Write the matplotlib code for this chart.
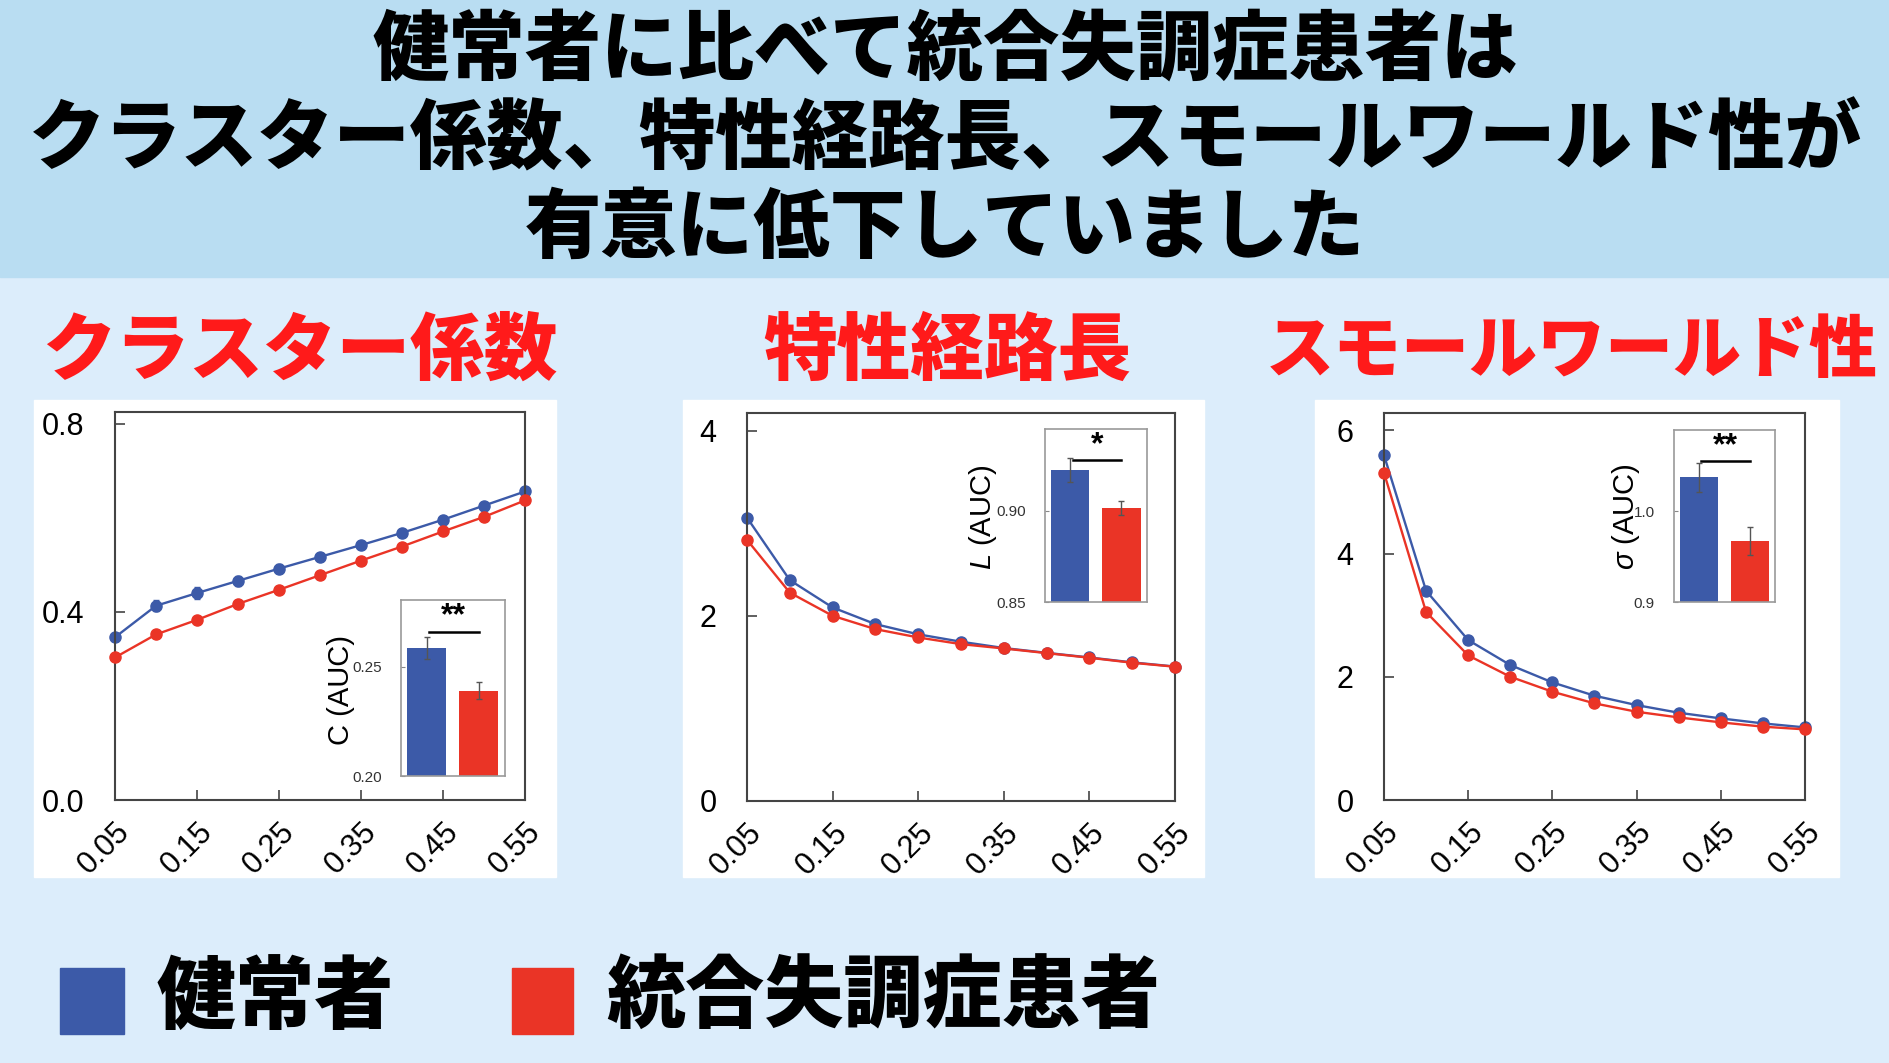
import numpy as np
import matplotlib.pyplot as plt
from matplotlib.patches import Rectangle

plt.rcParams['font.family'] = ['Noto Sans CJK JP', 'DejaVu Sans']
plt.rcParams['mathtext.fontset'] = 'custom'
plt.rcParams['mathtext.it'] = 'Liberation Sans:italic'
plt.rcParams['mathtext.rm'] = 'Liberation Sans'

# data
density = [0.05, 0.10, 0.15, 0.20, 0.25, 0.30, 0.35, 0.40, 0.45, 0.50, 0.55]
xtick_vals = [0.05, 0.15, 0.25, 0.35, 0.45, 0.55]
xtick_labels = ["0.05", "0.15", "0.25", "0.35", "0.45", "0.55"]

C_hc = [0.346, 0.413, 0.440, 0.466, 0.492, 0.517, 0.542, 0.568, 0.596, 0.626, 0.656]
C_hc_err = [0.008, 0.012, 0.012, 0.011, 0.010, 0.009, 0.008, 0.007, 0.007, 0.006, 0.006]
C_sz = [0.303, 0.352, 0.383, 0.417, 0.447, 0.478, 0.509, 0.539, 0.571, 0.602, 0.637]

L_hc = [3.06, 2.385, 2.09, 1.91, 1.80, 1.72, 1.652, 1.600, 1.550, 1.497, 1.452]
L_sz = [2.82, 2.25, 2.00, 1.856, 1.766, 1.694, 1.647, 1.597, 1.547, 1.493, 1.45]

S_hc = [5.595, 3.395, 2.595, 2.19, 1.908, 1.692, 1.54, 1.416, 1.324, 1.243, 1.178]
S_sz = [5.31, 3.05, 2.346, 2.00, 1.757, 1.568, 1.432, 1.34, 1.26, 1.19, 1.146]

C_auc = [0.2585, 0.239]
C_auc_err = [0.005, 0.004]
L_auc = [0.9225, 0.9015]
L_auc_err = [0.0064, 0.004]
S_auc = [1.038, 0.967]
S_auc_err = [0.016, 0.0155]

title_lines = ["健常者に比べて統合失調症患者は",
               "クラスター係数、特性経路長、スモールワールド性が",
               "有意に低下していました"]
panel_titles = ["クラスター係数", "特性経路長", "スモールワールド性"]
group_names = ["健常者", "統合失調症患者"]

BLUE = "#3c5aa8"
RED = "#ea3426"
W, H = 1890, 1063

fig = plt.figure(figsize=(18.9, 10.63), dpi=100, facecolor="#dcedfb")


def box(x0, y0, x1, y1):
    # pixel box (top-left origin) -> figure fraction rect
    return [x0 / W, 1 - y1 / H, (x1 - x0) / W, (y1 - y0) / H]


# banner
fig.patches.append(Rectangle((0, 1 - 277 / H), 1, 277 / H, transform=fig.transFigure,
                             color="#b9ddf2", zorder=-2))
for line, yc in zip(title_lines, [51, 140, 229]):
    fig.text(0.5, 1 - yc / H, line, ha="center", va="center", fontsize=55,
             fontweight="black", color="black")

# panel backgrounds
for x0, x1 in [(34, 556), (683, 1204), (1315, 1839)]:
    fig.patches.append(Rectangle((x0 / W, 1 - 877 / H), (x1 - x0) / W, 477 / H,
                                 transform=fig.transFigure, color="white", zorder=-1))

# panel titles
for t, xc, fs in zip(panel_titles, [300, 947, 1572], [53, 53, 49]):
    fig.text(xc / W, 1 - 352 / H, t, ha="center", va="center", fontsize=fs,
             fontweight="black", color="#ff1a1a")

main_boxes = [(115, 412, 525, 800), (747, 413, 1175, 801), (1384, 413, 1805, 800)]
ylims = [(0, 0.825), (0, 4.19), (0, 6.28)]
yticks = [[0.0, 0.4, 0.8], [0, 2, 4], [0, 2, 4, 6]]
yticklabels = [["0.0", "0.4", "0.8"], ["0", "2", "4"], ["0", "2", "4", "6"]]
series = [(C_hc, C_sz, C_hc_err), (L_hc, L_sz, None), (S_hc, S_sz, None)]

for bx, yl, yt, ytl, (hc, sz, err) in zip(main_boxes, ylims, yticks, yticklabels, series):
    ax = fig.add_axes(box(*bx))
    ax.plot(density, sz, color=RED, marker="o", markersize=8, linewidth=1.7, clip_on=False, zorder=3)
    ax.errorbar(density, hc, yerr=err, color=BLUE, marker="o", markersize=8, linewidth=1.7,
                elinewidth=1.2, capsize=2, clip_on=False, zorder=2)
    ax.set_xlim(0.05, 0.55)
    ax.set_ylim(*yl)
    ax.set_xticks(xtick_vals)
    ax.set_xticklabels(xtick_labels, rotation=45, ha="right", rotation_mode="anchor",
                       family="Liberation Sans", fontsize=22)
    ax.set_yticks(yt)
    ax.set_yticklabels(ytl, family="Liberation Sans", fontsize=22)
    ax.tick_params(axis="y", direction="in", length=7, width=1.2, color="#444444", pad=22)
    ax.tick_params(axis="x", direction="in", length=7, width=1.2, color="#444444", pad=12)
    for s in ax.spines.values():
        s.set_color("#444444")
        s.set_linewidth(1.5)

inset_boxes = [(401, 600, 505, 776), (1045, 429, 1147, 602), (1674, 430, 1775, 602)]
inset_lims = [(0.20, 0.2805), (0.85, 0.945), (0.90, 1.09)]
inset_ticks = [[0.20, 0.25], [0.85, 0.90], [0.9, 1.0]]
inset_ticklabels = [["0.20", "0.25"], ["0.85", "0.90"], ["0.9", "1.0"]]
inset_vals = [(C_auc, C_auc_err), (L_auc, L_auc_err), (S_auc, S_auc_err)]
inset_labels = ["C (AUC)", "$L$ (AUC)", r"$\sigma$ (AUC)"]
label_pos = [(341, 690), (983, 517), (1626, 517)]
stars = ["**", "*", "**"]

for bx, yl, yt, ytl, (v, e), lab, lp, st in zip(inset_boxes, inset_lims, inset_ticks,
                                               inset_ticklabels, inset_vals, inset_labels,
                                               label_pos, stars):
    ia = fig.add_axes(box(*bx))
    ia.bar([0, 1], v, width=0.75, color=[BLUE, RED], bottom=0, zorder=2)
    ia.errorbar([0, 1], v, yerr=e, fmt="none", ecolor="#555555", elinewidth=1, capsize=2, zorder=3)
    ia.set_xlim(-0.49, 1.5)
    ia.set_ylim(*yl)
    ia.set_xticks([])
    ia.set_yticks(yt)
    ia.set_yticklabels(ytl, family="Liberation Sans", fontsize=11, color="#333333")
    ia.tick_params(axis="y", direction="in", length=3, color="#888888", pad=14)
    for s in ia.spines.values():
        s.set_color("#9a9a9a")
        s.set_linewidth(1.2)
    ytop = yl[0] + (yl[1] - yl[0]) * 0.82
    ia.plot([0.05, 1.0], [ytop, ytop], color="black", linewidth=1.8)
    ia.text(0.52, ytop, st, ha="center", va="bottom", fontsize=23, fontweight="bold",
            family="Liberation Sans")
    fig.text(lp[0] / W, 1 - lp[1] / H, lab, rotation=90, ha="center", va="center",
             fontsize=21, family="Liberation Sans")

# legend
for (x0, x1), col, name, tx in zip([(60, 124), (512, 573)], [BLUE, RED], group_names, [157, 606]):
    fig.patches.append(Rectangle((x0 / W, 1 - 1034 / H), (x1 - x0) / W, 66 / H,
                                 transform=fig.transFigure, color=col, zorder=1))
    fig.text(tx / W, 1 - 998 / H, name, ha="left", va="center", fontsize=57,
             fontweight="black", color="black")

plt.savefig("out.png", dpi=100, facecolor=fig.get_facecolor())
